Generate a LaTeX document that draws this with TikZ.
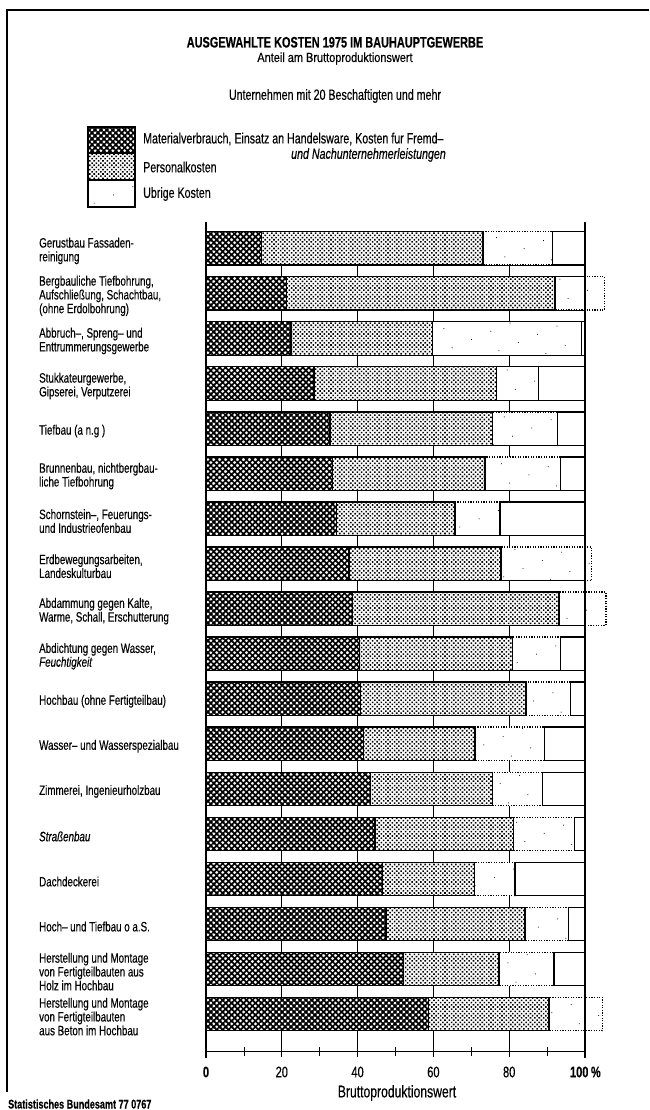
\documentclass[tikz,border=0pt]{standalone}
\usepackage{fontspec}
\setmainfont{Liberation Sans}[FakeStretch=0.72,FakeBold=0.3]
\newfontfamily\widesans{Liberation Sans}[FakeStretch=0.83,FakeBold=0.3]
\usetikzlibrary{patterns.meta}
\begin{document}
\begin{tikzpicture}[x=1pt,y=-1pt,
  matA/.style={pattern={Lines[angle=45,distance=4.2pt,line width=1.75pt]}},
  matB/.style={pattern={Lines[angle=-45,distance=4.2pt,line width=1.75pt]}},
  pers/.style={pattern={Dots[angle=45,distance=3.1pt,radius=1.1pt]}},
  oth/.style={pattern={Dots[angle=23,distance=21pt,radius=0.55pt]}},
  barline/.style={line width=1.3pt},
  othline/.style={line width=1.3pt,dash pattern=on 1.2pt off 1.4pt},
  gridline/.style={line width=0.8pt},
  axisline/.style={line width=1.6pt},
  lbl/.style={anchor=west,align=left,inner sep=0pt,font=\fontsize{13.6}{13.8}\selectfont},
  txt/.style={inner sep=0pt}]
\useasboundingbox (0,0) rectangle (649,1110);
% scan frame
\draw[line width=1.4pt] (649,10) -- (7,10) -- (7,1092);
% heading
\node[txt,anchor=base,text depth=0pt,font=\bfseries\fontsize{15.2}{15}\selectfont] (title) at (335,47.5) {AUSGEWAHLTE KOSTEN 1975 IM BAUHAUPTGEWERBE};
\node[txt,anchor=base,text height=9.5pt,text depth=2.5pt,font=\widesans\fontsize{13.2}{15}\selectfont] (sub) at (335,62) {Anteil am Bruttoproduktionswert};
\node[txt,font=\fontsize{14.8}{15}\selectfont] (unt) at (335,96) {Unternehmen mit 20 Beschaftigten und mehr};
% legend
\fill[white] (88,180) rectangle (135,207);
\fill[matA] (88,127) rectangle (135,153);
\fill[matB] (88,127) rectangle (135,153);
\fill[pers] (88,153) rectangle (135,180);
\fill[oth] (88,180) rectangle (135,207);
\draw[barline] (88,127) rectangle (135,207) (88,153) -- (135,153) (88,180) -- (135,180);
\node[txt,anchor=west,font=\fontsize{14.8}{15}\selectfont] (lg1) at (143,139) {Materialverbrauch, Einsatz an Handelsware, Kosten fur Fremd--};
\node[txt,anchor=east,font=\itshape\fontsize{14.8}{15}\selectfont] (lg1b) at (446,155) {und Nachunternehmerleistungen};
\node[txt,anchor=west,font=\fontsize{14.8}{15}\selectfont] (lg2) at (143,167) {Personalkosten};
\node[txt,anchor=west,font=\fontsize{14.8}{15}\selectfont] (lg3) at (143,194) {Ubrige Kosten};
% chart
\begin{scope}[shift={(206,0)},x=3.79pt]
  % strips between bars
  \foreach \i in {1,...,17} {
    \pgfmathsetmacro\B{231.7+45.04*(\i-1)+33.4}
    \pgfmathsetmacro\Tn{\B+11.64}
    \draw[gridline] (0,\B) rectangle (100,\Tn);
    \foreach \g in {20,40,60,80} \draw[gridline] (\g,\B) -- (\g,\Tn);
  }
  % bars
  \foreach \i/\ma/\pe/\ot in {1/14.7/73.1/91.5, 2/21.3/92.1/105.1, 3/22.4/59.8/99.1,
     4/28.5/76.7/87.7, 5/32.7/75.5/92.7, 6/33.4/73.6/93.6, 7/34.5/65.7/77.6,
     8/37.7/77.8/101.8, 9/38.6/93.1/105.5, 10/40.5/80.9/93.6, 11/40.8/84.4/96.2,
     12/41.5/71.0/89.4, 13/43.4/75.5/88.7, 14/44.6/81.1/97.2, 15/46.6/70.8/81.5,
     16/47.5/84.2/95.6, 17/52.1/77.3/91.8, 18/58.7/90.5/104.6} {
    \pgfmathsetmacro\T{231.7+45.04*(\i-1)}
    \pgfmathsetmacro\B{\T+33.4}
    \fill[white] (0,\T) rectangle (\ot,\B);
    \fill[matA] (0,\T) rectangle (\ma,\B);
    \fill[matB] (0,\T) rectangle (\ma,\B);
    \fill[pers] (\ma,\T) rectangle (\pe,\B);
    \fill[oth] (\pe,\T) rectangle (\ot,\B);
    \draw[othline] (\pe,\T) rectangle (\ot,\B);
    \ifdim\ot pt<99.9pt \fill[white] (\ot,\T) rectangle (100,\B); \draw[barline] (\ot,\T) rectangle (100,\B); \fi
    \draw[barline] (0,\T) rectangle (\pe,\B);
    \draw[barline] (\ma,\T) -- (\ma,\B);
  }
  % axis frame
  \draw[axisline] (0,222) -- (0,1058);
  \draw[axisline] (100,222) -- (100,1058);
  \foreach \g in {20,40,60,80} \draw[gridline] (\g,1030.8) -- (\g,1057);
  \draw[gridline] (0,1051.5) -- (100,1051.5);
  \foreach \g in {10,30,50,70,90} \draw[gridline] (\g,1047) -- (\g,1056);
  % tick labels
  \node[txt,font=\bfseries\fontsize{15.3}{15}\selectfont] (t0) at (0,1072) {0};
  \node[txt,font=\fontsize{15.3}{15}\selectfont] (t20) at (20,1072) {20};
  \node[txt,font=\fontsize{15.3}{15}\selectfont] (t40) at (40,1072) {40};
  \node[txt,font=\fontsize{15.3}{15}\selectfont] (t60) at (60,1072) {60};
  \node[txt,font=\fontsize{15.3}{15}\selectfont] (t80) at (80,1072) {80};
  \node[txt,anchor=west,font=\bfseries\fontsize{15.3}{15}\selectfont] (t100) at (96,1072) {100\,\%};
\end{scope}
\node[txt,font=\fontsize{16.9}{17}\selectfont] (xlab) at (397,1093) {Bruttoproduktionswert};
\node[txt,anchor=west,font=\bfseries\fontsize{12.6}{12}\selectfont] (src) at (8,1104) {Statistisches Bundesamt 77 0767};
% row labels
\node[lbl] (r1) at (39,250.9) {Gerustbau Fassaden-\\reinigung};
\node[lbl] (r2) at (39,295.9) {Bergbauliche Tiefbohrung,\\Aufschließung, Schachtbau,\\(ohne Erdolbohrung)};
\node[lbl] (r3) at (39,341.0) {Abbruch--, Spreng-- und\\Enttrummerungsgewerbe};
\node[lbl] (r4) at (39,386.0) {Stukkateurgewerbe,\\Gipserei, Verputzerei};
\node[lbl] (r5) at (39,431.1) {Tiefbau (a n.g )};
\node[lbl] (r6) at (39,476.1) {Brunnenbau, nichtbergbau-\\liche Tiefbohrung};
\node[lbl] (r7) at (39,521.1) {Schornstein--, Feuerungs-\\und Industrieofenbau};
\node[lbl] (r8) at (39,566.2) {Erdbewegungsarbeiten,\\Landeskulturbau};
\node[lbl] (r9) at (39,611.2) {Abdammung gegen Kalte,\\Warme, Schall, Erschutterung};
\node[lbl] (r10) at (39,656.3) {Abdichtung gegen Wasser,\\\itshape Feuchtigkeit};
\node[lbl] (r11) at (39,701.3) {Hochbau (ohne Fertigteilbau)};
\node[lbl] (r12) at (39,746.3) {Wasser-- und Wasserspezialbau};
\node[lbl] (r13) at (39,791.4) {Zimmerei, Ingenieurholzbau};
\node[lbl] (r14) at (39,836.4) {\itshape Straßenbau};
\node[lbl] (r15) at (39,881.5) {Dachdeckerei};
\node[lbl] (r16) at (39,926.5) {Hoch-- und Tiefbau o a.S.};
\node[lbl] (r17) at (39,971.6) {Herstellung und Montage\\von Fertigteilbauten aus\\Holz im Hochbau};
\node[lbl] (r18) at (39,1016.6) {Herstellung und Montage\\von Fertigteilbauten\\aus Beton im Hochbau};
\end{tikzpicture}
\end{document}
